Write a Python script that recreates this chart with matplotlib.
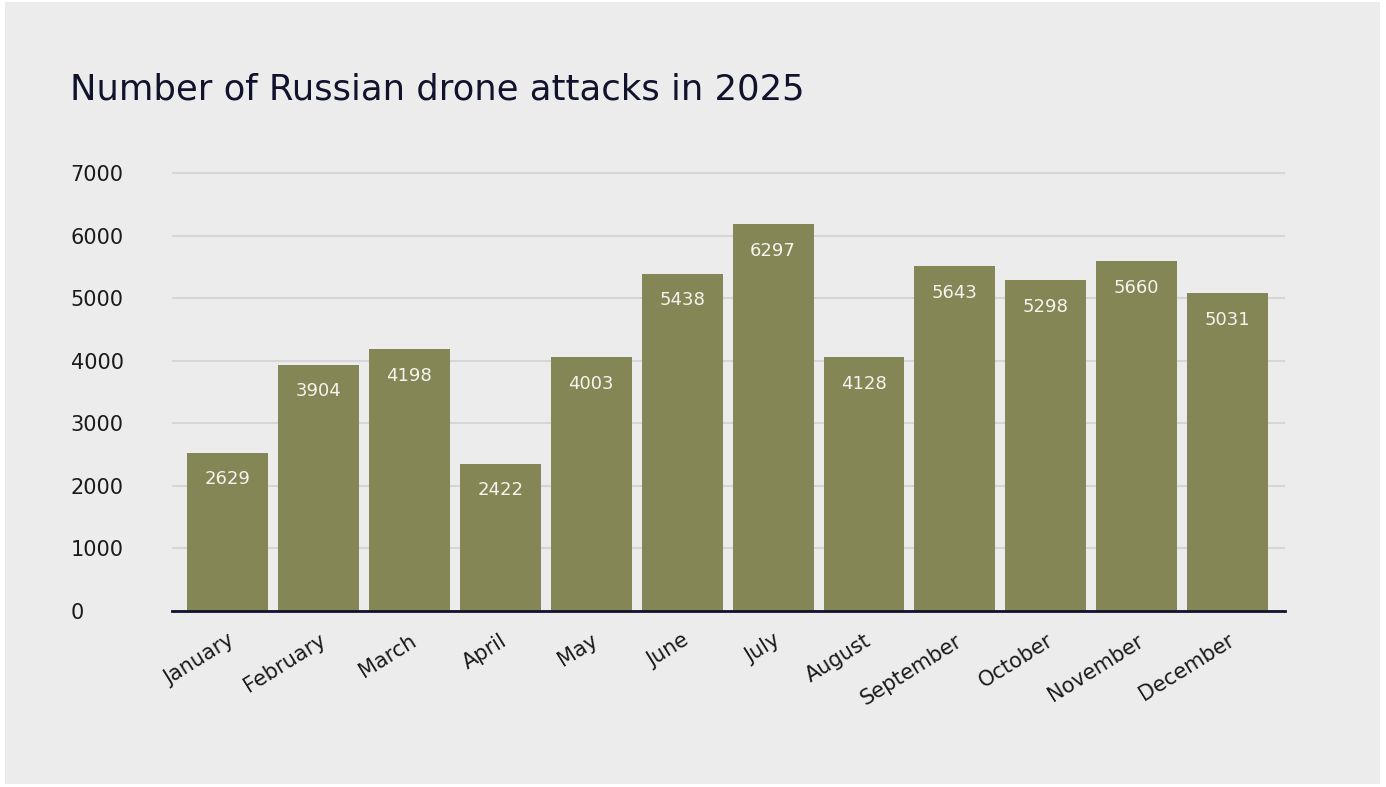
import matplotlib
matplotlib.use("Agg")
import matplotlib.pyplot as plt
from matplotlib.patches import Rectangle

months = ["January", "February", "March", "April", "May", "June", "July",
          "August", "September", "October", "November", "December"]
# bar heights as drawn in the picture
bar_heights = [2525, 3930, 4185, 2350, 4055, 5385, 6180, 4055, 5510, 5285, 5590, 5080]
# value labels as printed on the bars
value_labels = ["2629", "3904", "4198", "2422", "4003", "5438", "6297",
                "4128", "5643", "5298", "5660", "5031"]
y_ticks = [0, 1000, 2000, 3000, 4000, 5000, 6000, 7000]

BG = "#ececec"
BAR = "#848755"
NAVY = "#10132b"
FONT = ["DejaVu Sans"]
plt.rcParams["font.family"] = FONT

W, H = 1386, 787
fig = plt.figure(figsize=(W / 100, H / 100), dpi=100, facecolor="white")
fig.patches.append(Rectangle((5 / W, 3 / H), (1380 - 5) / W, (785 - 3) / H,
                             transform=fig.transFigure, facecolor=BG,
                             edgecolor="none", zorder=-10))

ax = fig.add_axes([172 / W, (H - 611) / H, (1285 - 172) / W, (611 - 168) / H])
ax.set_facecolor("none")

x = list(range(len(months)))
ax.bar(x, bar_heights, width=0.89, color=BAR, zorder=2)
ax.set_xlim(-0.61, 11.63)
ax.set_ylim(0, 7080)

for xi, h, lab in zip(x, bar_heights, value_labels):
    ax.annotate(lab, (xi, h), xytext=(0, -19), textcoords="offset points",
                ha="center", va="center", color="#f4f4ee", fontsize=13,
                zorder=3)

ax.set_yticks(y_ticks)
ax.set_yticklabels([str(v) for v in y_ticks])
ax.yaxis.grid(True, color="#d6d6d6", linewidth=1.5, zorder=1)
ax.set_axisbelow(True)
for s in ["top", "right", "left"]:
    ax.spines[s].set_visible(False)
ax.spines["bottom"].set_color(NAVY)
ax.spines["bottom"].set_linewidth(2.0)
ax.spines["bottom"].set_zorder(4)
ax.tick_params(axis="y", length=0, pad=73, labelsize=15, labelcolor="#1a1a1a")
for t in ax.get_yticklabels():
    t.set_horizontalalignment("left")
    t.set_verticalalignment("center_baseline")

ax.set_xticks(x)
ax.set_xticklabels(months, rotation=32, ha="right", rotation_mode="anchor",
                   fontsize=15, color="#1a1a1a")
ax.tick_params(axis="x", length=0, pad=14)

fig.text(70 / W, (H - 100) / H, "Number of Russian drone attacks in 2025",
         fontsize=25.5, color=NAVY, ha="left", va="baseline")

fig.savefig("out.png", dpi=100, facecolor="white")
